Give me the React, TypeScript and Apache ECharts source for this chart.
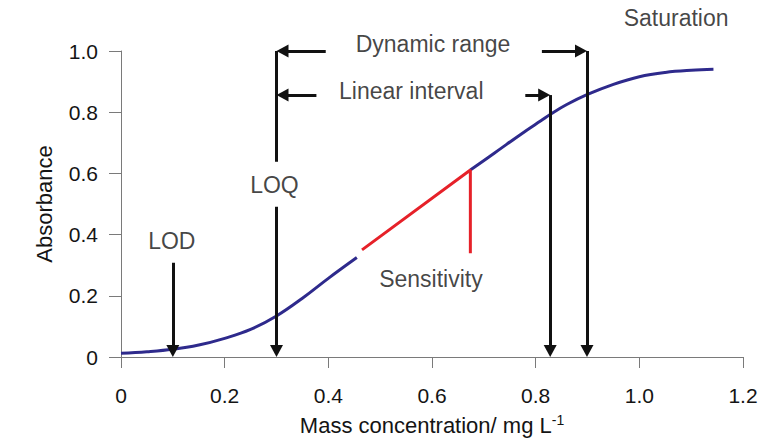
import React, { useEffect, useRef } from "react";
import * as echarts from "echarts";

// ---- data ----
const xTicks = [0, 0.2, 0.4, 0.6, 0.8, 1.0, 1.2];
const yTicks = [0, 0.2, 0.4, 0.6, 0.8, 1.0];

// calibration curve, lower (blue) part
const lowX = [0, 0.05, 0.1, 0.15, 0.2, 0.25, 0.3, 0.35, 0.4, 0.455];
const lowY = [0.012, 0.017, 0.025, 0.039, 0.061, 0.09, 0.134, 0.192, 0.257, 0.325];
// linear (red) sensitivity segment
const redX = [0.465, 0.674];
const redY = [0.35, 0.611];
const redDropY = 0.339;
// upper (blue) part
const highX = [0.674, 0.72, 0.78, 0.81, 0.83, 0.86, 0.9, 0.95, 1.0, 1.05, 1.1, 1.143];
const highY = [0.611, 0.666, 0.738, 0.772, 0.795, 0.825, 0.858, 0.891, 0.916, 0.93, 0.937, 0.94];

// markers
const lodX = 0.1;
const lodTop = 0.308;
const loqX = 0.3;
const loqGapTop = 0.638;
const loqGapBottom = 0.491;
const linEndX = 0.828;
const dynEndX = 0.899;
const dynY = 1.0;
const linY = 0.856;
const dynLeftTail = 0.395;
const linLeftTail = 0.377;
const linRightTail = 0.78;
const dynRightTail = 0.812;

const labelNames = ["Saturation", "Dynamic range", "Linear interval", "LOQ", "LOD", "Sensitivity"];
const labelX = [1.071, 0.602, 0.56, 0.296, 0.098, 0.598];
const labelY = [1.108, 1.023, 0.869, 0.562, 0.38, 0.256];

const FONT = "'Liberation Sans', Arial, Helvetica, sans-serif";
const TEXT = "#141414";
const BLUE = "#2e2a8c";
const RED = "#e62129";
const BLACK = "#111111";

export default function App() {
  const ref = useRef<HTMLDivElement>(null);

  useEffect(() => {
    if (!ref.current) return;
    const chart = echarts.init(ref.current, undefined, { renderer: "svg" });

    const W = 761, H = 438;
    const grid = { left: 121, right: 18, top: 51, bottom: 81, outerBoundsMode: "none", containLabel: false };
    const plotW = W - grid.left - grid.right;
    const plotH = H - grid.top - grid.bottom;
    const xMax = 1.2, yMax = 1.0;
    const AL = 12; // arrow head length (px)
    const padY = (AL / 2) / plotH * yMax;
    const padX = (AL / 2) / plotW * xMax;

    const arrow = (x1: number, y1: number, x2: number, y2: number, head = true) => {
      const dx = Math.sign(x2 - x1) * (head ? padX : 0);
      const dy = Math.sign(y2 - y1) * (head ? padY : 0);
      return [
        { coord: [x1, y1], symbol: "none" },
        {
          coord: [x2 - dx, y2 - dy],
          symbol: head ? "triangle" : "none",
          symbolSize: [13, AL],
        },
      ];
    };

    const fmt = (v: number) => (v === 0 ? "0" : v.toFixed(1));

    chart.setOption({
      animation: false,
      textStyle: { fontFamily: FONT },
      grid,
      xAxis: {
        type: "value",
        min: 0,
        max: xMax,
        interval: 0.2,
        name: "{a|Mass concentration/ mg L}{s|-1}",
        nameLocation: "middle",
        nameGap: 56,
        nameTextStyle: {
          rich: {
            a: { fontSize: 22, color: TEXT, fontFamily: FONT },
            s: { fontSize: 14, color: TEXT, fontFamily: FONT, verticalAlign: "top", padding: [0, 0, 10, 0] },
          },
        },
        axisLine: { show: true, lineStyle: { color: "#7a7a7a", width: 1 } },
        axisTick: { show: true, length: 11, lineStyle: { color: "#7a7a7a" } },
        axisLabel: {
          fontSize: 21,
          color: TEXT,
          margin: 28,
          formatter: (v: number) => (xTicks.some((t) => Math.abs(t - v) < 1e-9) ? fmt(v) : ""),
        },
        splitLine: { show: false },
      },
      yAxis: {
        type: "value",
        min: 0,
        max: yMax,
        interval: 0.2,
        name: "Absorbance",
        nameLocation: "middle",
        nameGap: 66,
        nameTextStyle: { fontSize: 22, color: TEXT, fontFamily: FONT },
        axisLine: { show: true, lineStyle: { color: "#7a7a7a", width: 1 } },
        axisTick: { show: true, length: 12, lineStyle: { color: "#7a7a7a" } },
        axisLabel: {
          fontSize: 21,
          color: TEXT,
          margin: 23,
          formatter: (v: number) => (yTicks.some((t) => Math.abs(t - v) < 1e-9) ? fmt(v) : ""),
        },
        splitLine: { show: false },
      },
      series: [
        {
          type: "line",
          data: lowX.map((x, i) => [x, lowY[i]]),
          smooth: 0.4,
          showSymbol: false,
          symbol: "none",
          lineStyle: { color: BLUE, width: 3 },
          z: 3,
        },
        {
          type: "line",
          data: highX.map((x, i) => [x, highY[i]]),
          smooth: 0.4,
          showSymbol: false,
          symbol: "none",
          lineStyle: { color: BLUE, width: 3 },
          z: 3,
        },
        {
          type: "line",
          data: [
            [redX[0], redY[0]],
            [redX[1], redY[1]],
            [redX[1], redDropY],
          ],
          showSymbol: false,
          symbol: "none",
          lineStyle: { color: RED, width: 3 },
          z: 4,
        },
        {
          type: "line",
          data: [],
          silent: true,
          markLine: {
            silent: true,
            animation: false,
            label: { show: false },
            lineStyle: { color: BLACK, width: 3, type: "solid" },
            emphasis: { disabled: true },
            data: [
              arrow(lodX, lodTop, lodX, 0),
              arrow(loqX, dynY, loqX, loqGapTop, false),
              arrow(loqX, loqGapBottom, loqX, 0),
              arrow(linEndX, linY, linEndX, 0),
              arrow(dynEndX, dynY, dynEndX, 0),
              arrow(dynLeftTail, dynY, loqX, dynY),
              arrow(linLeftTail, linY, loqX, linY),
              arrow(linRightTail, linY, linEndX, linY),
              arrow(dynRightTail, dynY, dynEndX, dynY),
            ],
          },
          z: 5,
        },
        {
          type: "scatter",
          clip: false,
          silent: true,
          symbolSize: 0,
          data: labelNames.map((n, i) => ({ name: n, value: [labelX[i], labelY[i]] })),
          label: {
            show: true,
            position: "inside",
            formatter: "{b}",
            fontSize: 23,
            color: TEXT,
            fontFamily: FONT,
            align: "center",
            verticalAlign: "middle",
          },
          z: 6,
        },
      ],
    });

    return () => chart.dispose();
  }, []);

  return (
    <div
      ref={ref}
      style={{ position: "fixed", left: 0, top: 0, width: 761, height: 438, background: "#fff" }}
    />
  );
}
